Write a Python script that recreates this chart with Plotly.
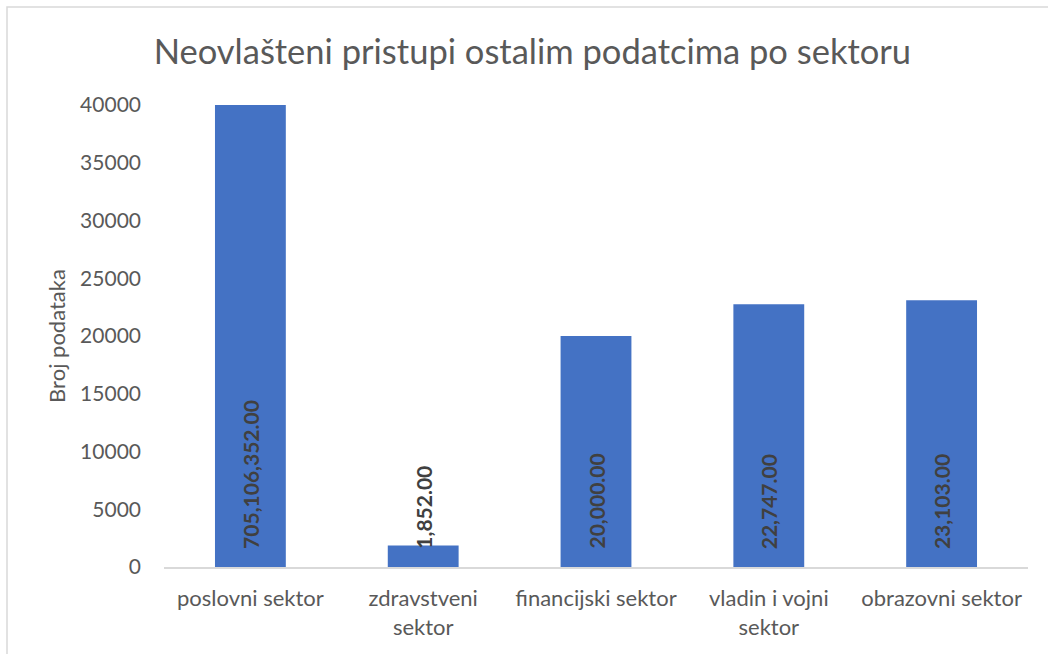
import plotly.graph_objects as go

categories = ["poslovni sektor", "zdravstveni<br>sektor", "financijski sektor",
              "vladin i vojni<br>sektor", "obrazovni sektor"]
values = [705106352, 1852, 20000, 22747, 23103]
value_labels = ["705,106,352.00", "1,852.00", "20,000.00", "22,747.00", "23,103.00"]
y_ticks = [0, 5000, 10000, 15000, 20000, 25000, 30000, 35000, 40000]

W, H = 1048, 654
L, R, T, B = 164, 20, 105, 87
pw, ph = W - L - R, H - T - B

FONT = "Lato"
GREY = "#595959"

fig = go.Figure()
fig.add_trace(go.Bar(x=categories, y=values, marker_color="#4472C4",
                     marker_line_width=0, hoverinfo="skip"))

for c, lab in zip(categories, value_labels):
    fig.add_annotation(x=c, y=0, text=lab, textangle=-90, showarrow=False,
                       xanchor="center", yanchor="bottom", yshift=16,
                       font=dict(family=FONT, size=21, color="#404040", weight="bold"))

fig.add_shape(type="rect", xref="paper", yref="paper",
              x0=(7 - L) / pw, x1=(1070 - L) / pw,
              y0=(H - B - 680) / ph, y1=(H - B - 7) / ph,
              line=dict(color="#d9d9d9", width=1.5), fillcolor="rgba(0,0,0,0)", layer="below")

fig.update_layout(
    width=W, height=H,
    margin=dict(l=L, r=R, t=T, b=B),
    paper_bgcolor="white", plot_bgcolor="white",
    bargap=0.59,
    showlegend=False,
    title=dict(text="Neovlašteni pristupi ostalim podatcima po sektoru",
               x=0.508, xanchor="center", y=1 - 52 / H, yanchor="middle",
               font=dict(family=FONT, size=34.5, color=GREY)),
    font=dict(family=FONT, color=GREY),
)
fig.update_xaxes(showline=True, linecolor="#d9d9d9", linewidth=1.5, ticks="",
                 tickfont=dict(family=FONT, size=22, color=GREY), showgrid=False,
                 automargin=False, ticklabelstandoff=11)
fig.update_yaxes(range=[0, 40000], tickvals=y_ticks, tickformat="d",
                 showgrid=False, zeroline=False, automargin=False,
                 showline=False, ticks="", ticklabelstandoff=22,
                 tickfont=dict(family=FONT, size=21, color=GREY),
                 title=dict(text="Broj podataka", standoff=8,
                            font=dict(family=FONT, size=22, color=GREY)))

fig.write_html("out.html", config={"displayModeBar": False},
               post_script="document.body.style.margin='0';")
